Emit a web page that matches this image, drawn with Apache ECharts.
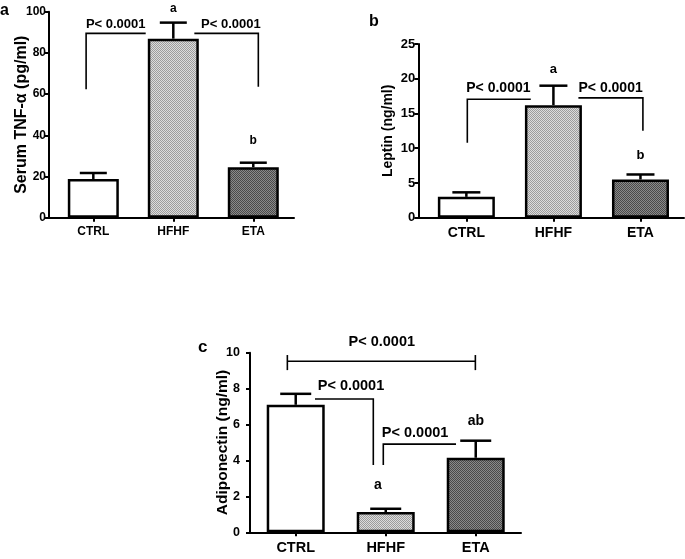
<!DOCTYPE html>
<html>
<head>
<meta charset="utf-8">
<script src="https://cdn.jsdelivr.net/npm/echarts@6/dist/echarts.min.js"></script>
<style>
html,body{margin:0;padding:0;background:#fff;}
#chart{width:685px;height:559px;}
</style>
</head>
<body>
<div id="chart"></div>
<script>
// ---------- data ----------
const categories = ['CTRL', 'HFHF', 'ETA'];

const tnfMean = [18.8, 86.9, 24.5];
const tnfSem = [2.9, 7.8, 2.2];
const leptinMean = [3.0, 16.2, 5.5];
const leptinSem = [0.65, 2.8, 0.72];
const adipoMean = [7.1, 1.13, 4.15];
const adipoSem = [0.61, 0.18, 0.95];

const tnfAxis = { min: 0, max: 100, interval: 20 };
const leptinAxis = { min: 0, max: 25, interval: 5 };
const adipoAxis = { min: 0, max: 10, interval: 2 };

// significance brackets (x in category index units, y in axis units)
const tnfBrackets = [
  [[-0.09, 62.3], [-0.09, 89.5], [0.655, 89.5]],
  [[1.263, 89.5], [2.063, 89.5], [2.063, 63.6]]
];
const leptinBrackets = [
  [[0.011, 10.8], [0.011, 17.05], [0.74, 17.05]],
  [[1.287, 17.25], [2.028, 17.25], [2.028, 12.5]]
];
const adipoBrackets = [
  [[-0.093, 9.52], [1.996, 9.52]],
  [[-0.093, 9.87], [-0.093, 9.03]],
  [[1.996, 9.87], [1.996, 9.03]],
  [[0.214, 7.42], [0.862, 7.42], [0.862, 3.75]],
  [[0.973, 3.75], [0.973, 4.91], [1.781, 4.91]]
];

// annotations: [x, y, text]
const tnfNotes = [[0.28, 94.0, 'P< 0.0001'], [1.72, 94.0, 'P< 0.0001'], [1.0, 101.6, 'a'], [2.0, 37.2, 'b']];
const leptinNotes = [[0.368, 18.6, 'P< 0.0001'], [1.657, 18.6, 'P< 0.0001'], [1.0, 21.3, 'a'], [2.0, 9.0, 'b']];
const adipoNotes = [[0.956, 10.57, 'P< 0.0001'], [0.614, 8.14, 'P< 0.0001'], [1.326, 5.51, 'P< 0.0001'], [0.914, 2.63, 'a'], [2.003, 6.21, 'ab']];

// ---------- styles ----------
const FONT = 'Liberation Sans, Arial, Helvetica, sans-serif';

function pattern(bg, fg) {
  const cv = document.createElement('canvas');
  cv.width = 2; cv.height = 2;
  const ctx = cv.getContext('2d');
  ctx.fillStyle = bg; ctx.fillRect(0, 0, 2, 2);
  ctx.fillStyle = fg; ctx.fillRect(0, 0, 1, 1); ctx.fillRect(1, 1, 1, 1);
  return { image: cv, repeat: 'repeat' };
}
const fills = ['#ffffff', pattern('#dcdcdc', '#9c9c9c'), pattern('#8a8a8a', '#4a4a4a')];

const chart = echarts.init(document.getElementById('chart'), null, { renderer: 'canvas' });

const panels = [
  { mean: tnfMean, sem: tnfSem, axis: tnfAxis, brackets: tnfBrackets, notes: tnfNotes,
    grid: { left: 49, top: 11.7, width: 245, height: 206 }, xMin: -0.554, xMax: 2.509,
    name: 'Serum TNF-\u03b1 (pg/ml)', nameSize: 16, nameGap: 19.5,
    tickSize: 12, tickMargin: 3, catSize: 12, pSize: 13, letterSize: 12, barWidth: 51, cap: 13.5 },
  { mean: leptinMean, sem: leptinSem, axis: leptinAxis, brackets: leptinBrackets, notes: leptinNotes,
    grid: { left: 418.3, top: 44, width: 265.7, height: 173.7 }, xMin: -0.552, xMax: 2.50,
    name: 'Leptin (ng/ml)', nameSize: 14, nameGap: 23,
    tickSize: 13, tickMargin: 3, catSize: 14, pSize: 14, letterSize: 13, barWidth: 57, cap: 14 },
  { mean: adipoMean, sem: adipoSem, axis: adipoAxis, brackets: adipoBrackets, notes: adipoNotes,
    grid: { left: 250, top: 352.7, width: 271, height: 179.6 }, xMin: -0.508, xMax: 2.503,
    name: 'Adiponectin (ng/ml)', nameSize: 15.5, nameGap: 19.5,
    tickSize: 12.5, tickMargin: 10, catSize: 14.5, pSize: 14.5, letterSize: 14, barWidth: 58, cap: 15.5 }
];

const grids = [], xAxes = [], yAxes = [], series = [];
panels.forEach((p, i) => {
  grids.push(p.grid);
  xAxes.push({
    gridIndex: i, type: 'value', min: p.xMin, max: p.xMax,
    splitLine: { show: false },
    axisLine: { show: true, onZero: false, lineStyle: { color: '#000', width: 2 } },
    axisTick: { show: true, customValues: [0, 1, 2], length: 4, lineStyle: { color: '#000', width: 2 } },
    axisLabel: { show: true, customValues: [0, 1, 2], formatter: v => categories[Math.round(v)] || '',
      color: '#000', fontWeight: 'bold', fontSize: p.catSize, fontFamily: FONT, margin: 8 }
  });
  yAxes.push({
    gridIndex: i, type: 'value', min: p.axis.min, max: p.axis.max, interval: p.axis.interval,
    splitLine: { show: false },
    axisLine: { show: true, onZero: false, lineStyle: { color: '#000', width: 2 } },
    axisTick: { show: true, length: 4, lineStyle: { color: '#000', width: 2 } },
    axisLabel: { color: '#000', fontWeight: 'bold', fontSize: p.tickSize, fontFamily: FONT, margin: p.tickMargin },
    name: p.name, nameLocation: 'middle', nameRotate: 90, nameGap: p.nameGap, nameMoveOverlap: false,
    nameTextStyle: { color: '#000', fontWeight: 'bold', fontSize: p.nameSize, fontFamily: FONT }
  });
  series.push({
    type: 'bar', xAxisIndex: i, yAxisIndex: i, barWidth: p.barWidth, animation: false,
    data: p.mean.map((v, k) => ({ value: [k, v], itemStyle: { color: fills[k] } })),
    itemStyle: { borderColor: '#000', borderWidth: 2.5 }
  });
  series.push({
    type: 'custom', xAxisIndex: i, yAxisIndex: i, clip: false, animation: false, z: 1,
    data: p.mean.map((v, k) => [k, v, v + p.sem[k]]),
    renderItem: (params, api) => {
      const b = api.coord([api.value(0), api.value(1)]);
      const t = api.coord([api.value(0), api.value(2)]);
      const st = { stroke: '#000', lineWidth: 2.5 };
      return { type: 'group', children: [
        { type: 'line', shape: { x1: b[0], y1: b[1], x2: t[0], y2: t[1] }, style: st },
        { type: 'line', shape: { x1: t[0] - p.cap, y1: t[1], x2: t[0] + p.cap, y2: t[1] }, style: st }
      ] };
    }
  });
  series.push({
    type: 'custom', xAxisIndex: i, yAxisIndex: i, clip: false, animation: false, z: 3,
    data: p.brackets.map((b, k) => [k]),
    renderItem: (params, api) => {
      const pts = p.brackets[params.dataIndex].map(pt => api.coord(pt));
      return { type: 'polyline', shape: { points: pts }, style: { stroke: '#000', lineWidth: 1.6, fill: null } };
    }
  });
  series.push({
    type: 'custom', xAxisIndex: i, yAxisIndex: i, clip: false, animation: false, z: 4,
    data: p.notes.map(n => [n[0], n[1]]),
    renderItem: (params, api) => {
      const n = p.notes[params.dataIndex];
      const c = api.coord([n[0], n[1]]);
      const isP = n[2].charAt(0) === 'P';
      return { type: 'text', x: c[0], y: c[1], style: {
        text: n[2], fill: '#000', align: 'center', verticalAlign: 'middle',
        font: 'bold ' + (isP ? p.pSize : p.letterSize) + 'px ' + FONT } };
    }
  });
});

chart.setOption({
  animation: false,
  backgroundColor: '#fff',
  grid: grids, xAxis: xAxes, yAxis: yAxes, series: series,
  graphic: [
    { type: 'text', left: 0, top: 3, style: { text: 'a', font: 'bold 16px ' + FONT, fill: '#000' } },
    { type: 'text', left: 369, top: 14, style: { text: 'b', font: 'bold 16px ' + FONT, fill: '#000' } },
    { type: 'text', left: 198, top: 339, style: { text: 'c', font: 'bold 17px ' + FONT, fill: '#000' } }
  ]
});
</script>
</body>
</html>
